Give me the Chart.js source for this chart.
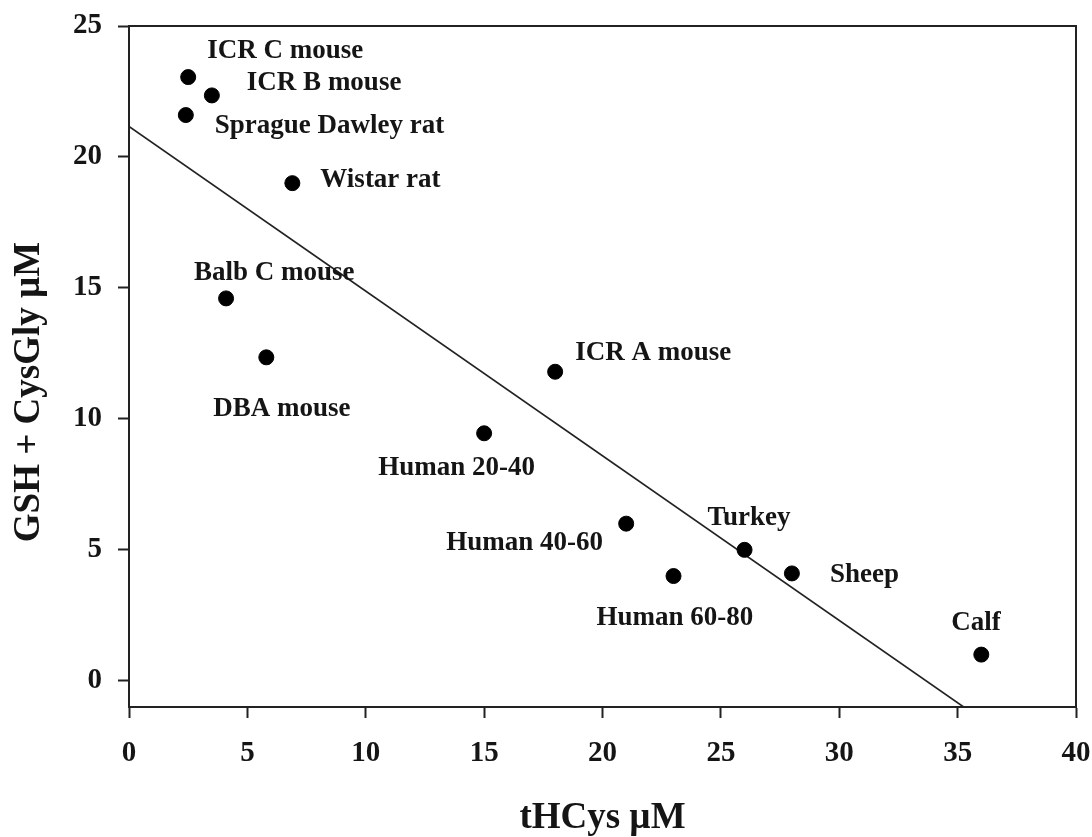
<!DOCTYPE html>
<html>
<head>
<meta charset="utf-8">
<title>GSH + CysGly vs tHCys</title>
<script src="https://cdn.jsdelivr.net/npm/chart.js@4.4.1/dist/chart.umd.min.js"></script>
<style>
  html, body { margin: 0; padding: 0; background: #ffffff; }
  #wrap { width: 1092px; height: 837px; position: relative; }
  canvas { display: block; }
</style>
</head>
<body>
<div id="wrap"><canvas id="chart" width="1092" height="837"></canvas></div>
<script>
// Species / group names
const species = [
  'ICR C mouse', 'ICR B mouse', 'Sprague Dawley rat', 'Wistar rat',
  'Balb C mouse', 'DBA mouse', 'Human 20-40', 'ICR A mouse',
  'Human 40-60', 'Human 60-80', 'Turkey', 'Sheep', 'Calf'
];
// Total homocysteine, µM
const tHCys = [2.5, 3.5, 2.4, 6.9, 4.1, 5.8, 15.0, 18.0, 21.0, 23.0, 26.0, 28.0, 36.0];
// GSH + CysGly, µM
const gshCysGly = [23.05, 22.35, 21.6, 19.0, 14.6, 12.35, 9.45, 11.8, 6.0, 4.0, 5.0, 4.1, 1.0];
// Axis ticks
const xTicks = [0, 5, 10, 15, 20, 25, 30, 35, 40];
const yTicks = [0, 5, 10, 15, 20, 25];

// Label placement next to each marker (pixels: left edge offset, vertical centre offset)
const labelOffsets = [
  [19, -26], [35, -12], [29, 11], [28, -3],
  [-32, -25], [-53, 52], [-106, 35], [20, -19],
  [-180, 19], [-77, 42], [-37, -32], [38, 2], [-30, -32]
];

const X_MIN = 0, X_MAX = 40, Y_MIN = -1, Y_MAX = 25;
const INK = '#151515';
const SERIF = '"Liberation Serif", "Times New Roman", serif';

// Least-squares regression line through the points
function linearFit(xs, ys) {
  const n = xs.length;
  const mx = xs.reduce((a, b) => a + b, 0) / n;
  const my = ys.reduce((a, b) => a + b, 0) / n;
  let sxy = 0, sxx = 0;
  for (let i = 0; i < n; i++) {
    sxy += (xs[i] - mx) * (ys[i] - my);
    sxx += (xs[i] - mx) * (xs[i] - mx);
  }
  const slope = sxy / sxx;
  return { slope, intercept: my - slope * mx };
}
const fit = linearFit(tHCys, gshCysGly);
const fitEndX = (Y_MIN - fit.intercept) / fit.slope;
const fitLine = [
  { x: X_MIN, y: fit.intercept },
  { x: fitEndX, y: Y_MIN }
];

const points = tHCys.map((x, i) => ({ x, y: gshCysGly[i] }));

// Labels beside markers, frame, and axis titles
const annotate = {
  id: 'annotate',
  afterDatasetsDraw(chart) {
    const ctx = chart.ctx;
    const meta = chart.getDatasetMeta(1);
    ctx.save();
    ctx.fillStyle = INK;
    ctx.font = 'bold 27px ' + SERIF;
    ctx.textAlign = 'left';
    ctx.textBaseline = 'middle';
    meta.data.forEach((el, i) => {
      const [dx, dy] = labelOffsets[i];
      ctx.fillText(species[i], el.x + dx, el.y + dy);
    });
    ctx.restore();
  },
  afterDraw(chart) {
    const ctx = chart.ctx;
    const a = chart.chartArea;
    ctx.save();
    ctx.strokeStyle = '#222';
    ctx.lineWidth = 2;
    ctx.beginPath();
    ctx.moveTo(a.left, a.top);
    ctx.lineTo(a.right, a.top);
    ctx.lineTo(a.right, a.bottom);
    ctx.stroke();

    ctx.fillStyle = INK;
    ctx.font = 'bold 37px ' + SERIF;
    ctx.textAlign = 'center';
    ctx.textBaseline = 'middle';
    ctx.fillText('tHCys µM', (a.left + a.right) / 2, 818);

    ctx.translate(29, 392);
    ctx.rotate(-Math.PI / 2);
    ctx.fillText('GSH + CysGly µM', 0, 0);
    ctx.restore();
  }
};

new Chart(document.getElementById('chart'), {
  type: 'scatter',
  data: {
    datasets: [
      {
        type: 'line',
        data: fitLine,
        borderColor: '#222',
        borderWidth: 1.6,
        pointRadius: 0,
        fill: false,
        tension: 0,
        order: 2
      },
      {
        data: points,
        backgroundColor: '#000',
        borderColor: '#000',
        pointRadius: 7.5,
        pointHoverRadius: 7.5,
        order: 1
      }
    ]
  },
  options: {
    responsive: false,
    animation: false,
    devicePixelRatio: 1,
    layout: { padding: { top: 26, right: 16, left: 0, bottom: 0 } },
    plugins: {
      legend: { display: false },
      tooltip: { enabled: false }
    },
    scales: {
      x: {
        type: 'linear',
        min: X_MIN,
        max: X_MAX,
        afterBuildTicks(scale) { scale.ticks = xTicks.map(v => ({ value: v })); },
        afterFit(scale) {
          scale.height = 130;
          scale.paddingLeft = 0;
          scale.paddingRight = 0;
        },
        border: { display: true, color: '#222', width: 2 },
        grid: { drawOnChartArea: false, drawTicks: true, tickLength: 11, tickWidth: 2, tickColor: '#222' },
        ticks: {
          color: INK,
          padding: 18,
          maxRotation: 0,
          font: { family: SERIF, size: 29, weight: 'bold' }
        }
      },
      y: {
        type: 'linear',
        min: Y_MIN,
        max: Y_MAX,
        afterBuildTicks(scale) { scale.ticks = yTicks.map(v => ({ value: v })); },
        afterFit(scale) {
          scale.width = 129;
          scale.paddingTop = 0;
          scale.paddingBottom = 0;
        },
        border: { display: true, color: '#222', width: 2 },
        grid: { drawOnChartArea: false, drawTicks: true, tickLength: 11, tickWidth: 2, tickColor: '#222' },
        ticks: {
          color: INK,
          padding: 16,
          font: { family: SERIF, size: 29, weight: 'bold' }
        }
      }
    }
  },
  plugins: [annotate]
});
</script>
</body>
</html>
